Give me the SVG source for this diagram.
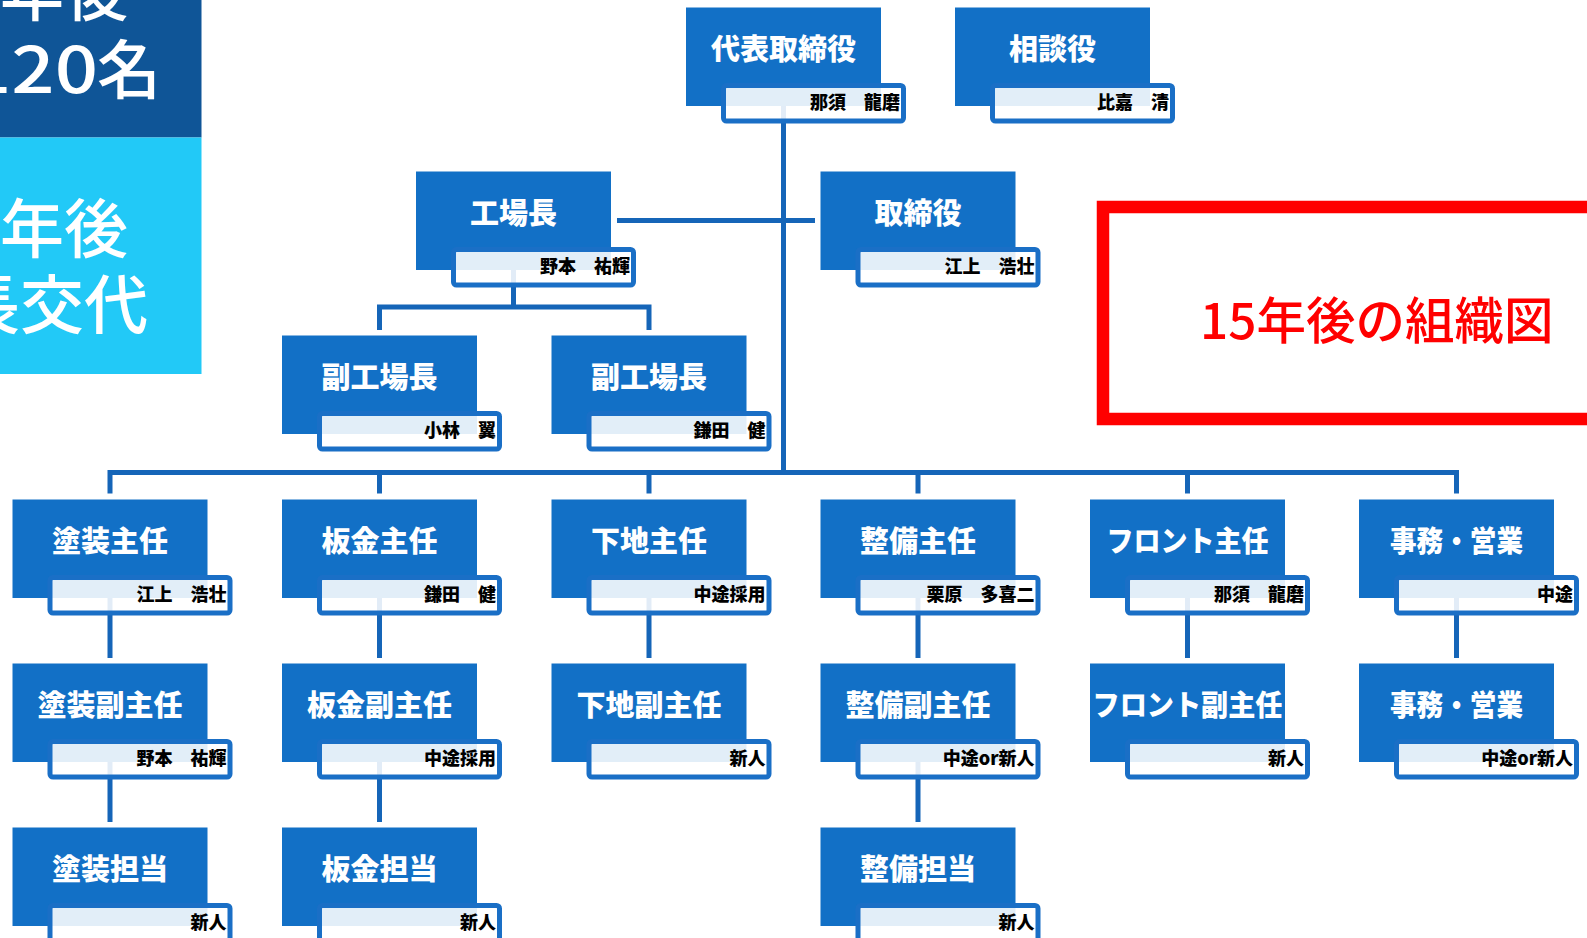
<svg xmlns="http://www.w3.org/2000/svg" width="1587" height="938" viewBox="0 0 1587 938">
<style>
.box{fill:#1270C6}
.nb{fill:#fff;fill-opacity:.88;stroke:#1A6FC6;stroke-width:5}
.t{fill:#fff;font-family:'Noto Sans CJK JP',sans-serif;font-weight:900;font-size:29px;text-anchor:middle}
.n{fill:#000;font-family:'Noto Sans CJK JP',sans-serif;font-weight:900;font-size:18px;text-anchor:end}
.pt{fill:#fff;font-family:'Noto Sans CJK JP',sans-serif;font-weight:500;font-size:64px}
#connectors path{stroke:#1565B8;stroke-width:5;fill:none}
</style>
<rect width="1587" height="938" fill="#fff"/>
<g id="side-panel">
<rect x="0" y="0" width="201.5" height="137.5" fill="#0F5597"/>
<rect x="0" y="137.5" width="201.5" height="236.5" fill="#22C9F7"/>
<text class="pt" x="128" y="15" text-anchor="end">年後</text>
<text class="pt" y="93"><tspan x="-32" textLength="130" lengthAdjust="spacingAndGlyphs">120</tspan><tspan x="97">名</tspan></text>
<text class="pt" x="128" y="252" text-anchor="end">年後</text>
<text class="pt" x="148" y="328" text-anchor="end">長交代</text>
</g>
<g id="title-box">
<rect x="1103" y="207" width="520" height="212" fill="none" stroke="#FF0000" stroke-width="12.5"/>
<text x="1200" y="339" fill="#FF0000" font-family="'Noto Sans CJK JP',sans-serif" font-weight="500" font-size="49.5">15年後の組織図</text>
</g>
<g id="connectors">
<path d="M783.5 106V472.5"/>
<path d="M617 220.5H815"/>
<path d="M513.5 270V307M379.5 330V307H649V330"/>
<path d="M110 493.5V472.5H1456.5V493.5M379.5 472.5V493.5M649 472.5V493.5M918 472.5V493.5M1187.5 472.5V493.5"/>
<path d="M110 597V658M379.5 597V658M649 597V658M918 597V658M1187.5 597V658M1456.5 597V658"/>
<path d="M110 761V822M379.5 761V822M918 761V822"/>
</g>
<g id="n-ceo" transform="translate(686 7.5)"><rect class="box" width="195" height="98.5"/><rect class="nb" x="37.5" y="78" width="180" height="35.5" rx="3"/><text class="t" x="97.5" y="52">代表取締役</text><text class="n" x="214" y="101">那須　龍磨</text></g>
<g id="n-advisor" transform="translate(955 7.5)"><rect class="box" width="195" height="98.5"/><rect class="nb" x="37.5" y="78" width="180" height="35.5" rx="3"/><text class="t" x="97.5" y="52">相談役</text><text class="n" x="214" y="101">比嘉　清</text></g>
<g id="n-factory" transform="translate(416 171.5)"><rect class="box" width="195" height="98.5"/><rect class="nb" x="37.5" y="78" width="180" height="35.5" rx="3"/><text class="t" x="97.5" y="52">工場長</text><text class="n" x="214" y="101">野本　祐輝</text></g>
<g id="n-director" transform="translate(820.5 171.5)"><rect class="box" width="195" height="98.5"/><rect class="nb" x="37.5" y="78" width="180" height="35.5" rx="3"/><text class="t" x="97.5" y="52">取締役</text><text class="n" x="214" y="101">江上　浩壮</text></g>
<g id="n-vf1" transform="translate(282 335.5)"><rect class="box" width="195" height="98.5"/><rect class="nb" x="37.5" y="78" width="180" height="35.5" rx="3"/><text class="t" x="97.5" y="52">副工場長</text><text class="n" x="214" y="101">小林　翼</text></g>
<g id="n-vf2" transform="translate(551.5 335.5)"><rect class="box" width="195" height="98.5"/><rect class="nb" x="37.5" y="78" width="180" height="35.5" rx="3"/><text class="t" x="97.5" y="52">副工場長</text><text class="n" x="214" y="101">鎌田　健</text></g>
<g id="n-paint1" transform="translate(12.5 499.5)"><rect class="box" width="195" height="98.5"/><rect class="nb" x="37.5" y="78" width="180" height="35.5" rx="3"/><text class="t" x="97.5" y="52">塗装主任</text><text class="n" x="214" y="101">江上　浩壮</text></g>
<g id="n-sheet1" transform="translate(282 499.5)"><rect class="box" width="195" height="98.5"/><rect class="nb" x="37.5" y="78" width="180" height="35.5" rx="3"/><text class="t" x="97.5" y="52">板金主任</text><text class="n" x="214" y="101">鎌田　健</text></g>
<g id="n-base1" transform="translate(551.5 499.5)"><rect class="box" width="195" height="98.5"/><rect class="nb" x="37.5" y="78" width="180" height="35.5" rx="3"/><text class="t" x="97.5" y="52">下地主任</text><text class="n" x="214" y="101">中途採用</text></g>
<g id="n-maint1" transform="translate(820.5 499.5)"><rect class="box" width="195" height="98.5"/><rect class="nb" x="37.5" y="78" width="180" height="35.5" rx="3"/><text class="t" x="97.5" y="52">整備主任</text><text class="n" x="214" y="101">栗原　多喜二</text></g>
<g id="n-front1" transform="translate(1090 499.5)"><rect class="box" width="195" height="98.5"/><rect class="nb" x="37.5" y="78" width="180" height="35.5" rx="3"/><text class="t" x="97.5" y="52" textLength="162" lengthAdjust="spacingAndGlyphs">フロント主任</text><text class="n" x="214" y="101">那須　龍磨</text></g>
<g id="n-office1" transform="translate(1359 499.5)"><rect class="box" width="195" height="98.5"/><rect class="nb" x="37.5" y="78" width="180" height="35.5" rx="3"/><text class="t" x="97.5" y="52" textLength="133" lengthAdjust="spacingAndGlyphs">事務・営業</text><text class="n" x="214" y="101">中途</text></g>
<g id="n-paint2" transform="translate(12.5 663.5)"><rect class="box" width="195" height="98.5"/><rect class="nb" x="37.5" y="78" width="180" height="35.5" rx="3"/><text class="t" x="97.5" y="52">塗装副主任</text><text class="n" x="214" y="101">野本　祐輝</text></g>
<g id="n-sheet2" transform="translate(282 663.5)"><rect class="box" width="195" height="98.5"/><rect class="nb" x="37.5" y="78" width="180" height="35.5" rx="3"/><text class="t" x="97.5" y="52">板金副主任</text><text class="n" x="214" y="101">中途採用</text></g>
<g id="n-base2" transform="translate(551.5 663.5)"><rect class="box" width="195" height="98.5"/><rect class="nb" x="37.5" y="78" width="180" height="35.5" rx="3"/><text class="t" x="97.5" y="52">下地副主任</text><text class="n" x="214" y="101">新人</text></g>
<g id="n-maint2" transform="translate(820.5 663.5)"><rect class="box" width="195" height="98.5"/><rect class="nb" x="37.5" y="78" width="180" height="35.5" rx="3"/><text class="t" x="97.5" y="52">整備副主任</text><text class="n" x="214" y="101">中途or新人</text></g>
<g id="n-front2" transform="translate(1090 663.5)"><rect class="box" width="195" height="98.5"/><rect class="nb" x="37.5" y="78" width="180" height="35.5" rx="3"/><text class="t" x="97.5" y="52" textLength="190" lengthAdjust="spacingAndGlyphs">フロント副主任</text><text class="n" x="214" y="101">新人</text></g>
<g id="n-office2" transform="translate(1359 663.5)"><rect class="box" width="195" height="98.5"/><rect class="nb" x="37.5" y="78" width="180" height="35.5" rx="3"/><text class="t" x="97.5" y="52" textLength="133" lengthAdjust="spacingAndGlyphs">事務・営業</text><text class="n" x="214" y="101">中途or新人</text></g>
<g id="n-paint3" transform="translate(12.5 827.5)"><rect class="box" width="195" height="98.5"/><rect class="nb" x="37.5" y="78" width="180" height="35.5" rx="3"/><text class="t" x="97.5" y="52">塗装担当</text><text class="n" x="214" y="101">新人</text></g>
<g id="n-sheet3" transform="translate(282 827.5)"><rect class="box" width="195" height="98.5"/><rect class="nb" x="37.5" y="78" width="180" height="35.5" rx="3"/><text class="t" x="97.5" y="52">板金担当</text><text class="n" x="214" y="101">新人</text></g>
<g id="n-maint3" transform="translate(820.5 827.5)"><rect class="box" width="195" height="98.5"/><rect class="nb" x="37.5" y="78" width="180" height="35.5" rx="3"/><text class="t" x="97.5" y="52">整備担当</text><text class="n" x="214" y="101">新人</text></g>
</svg>
